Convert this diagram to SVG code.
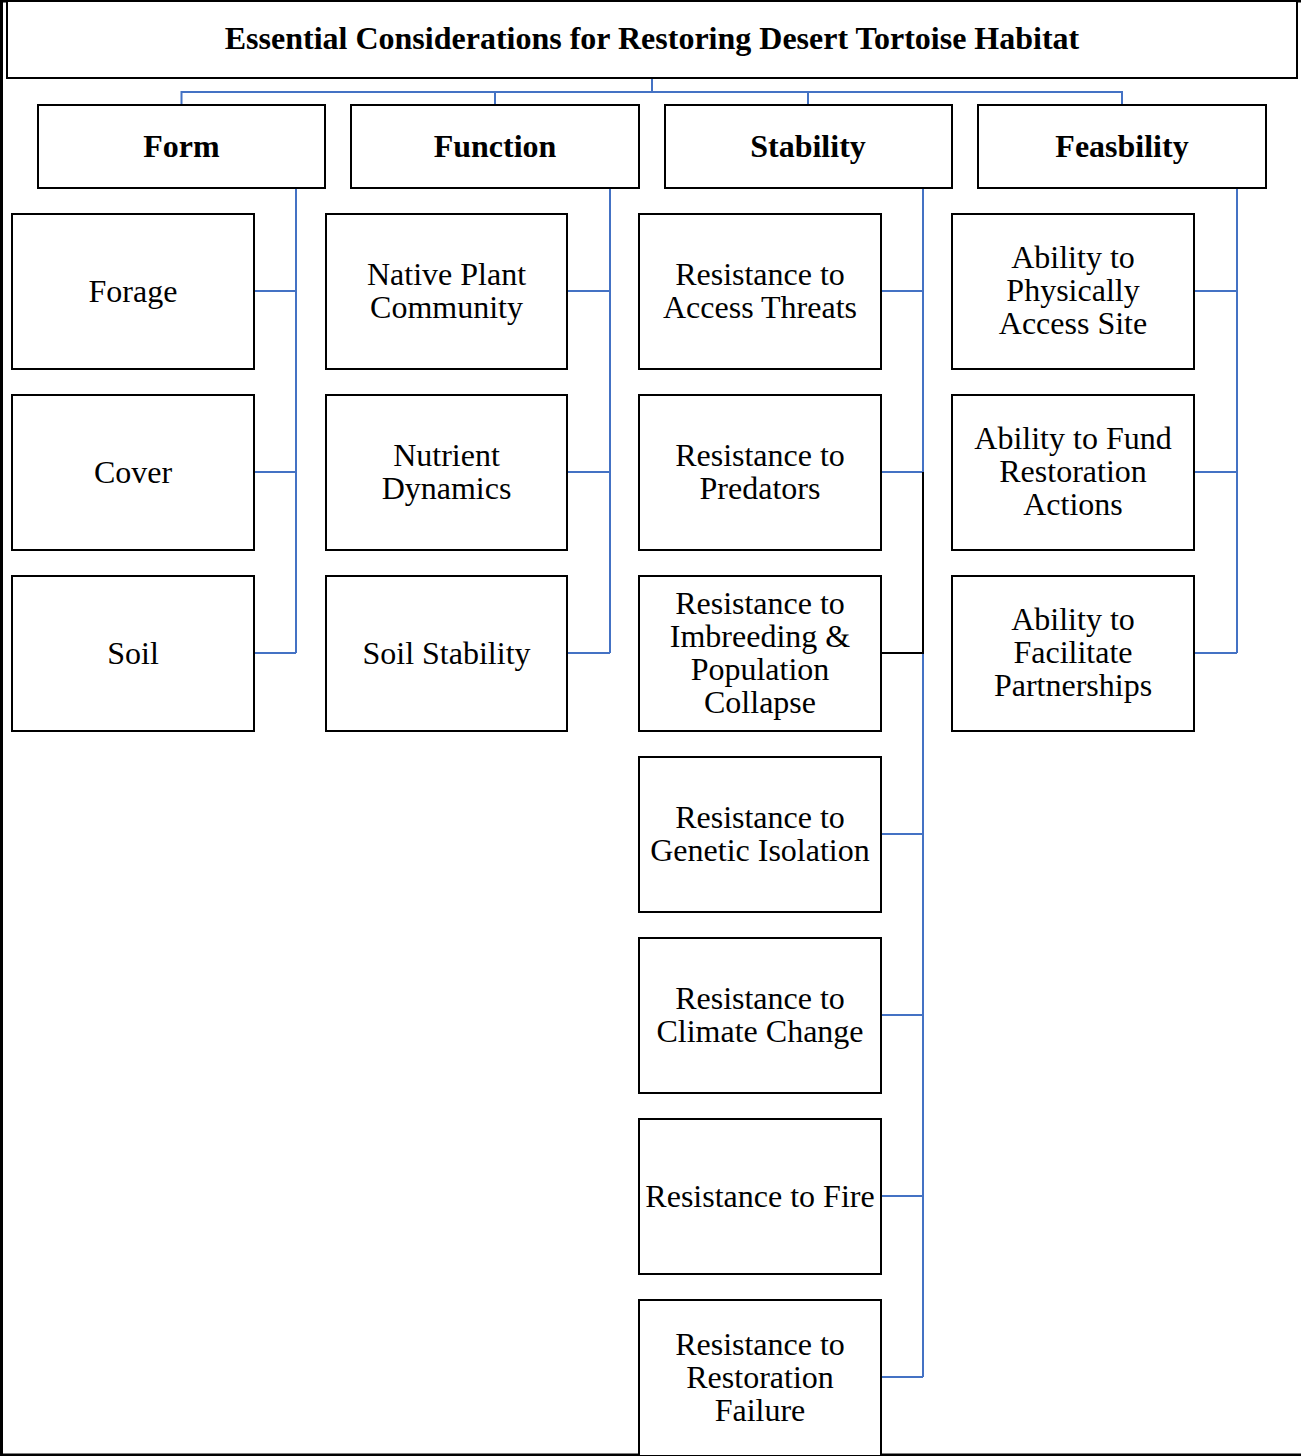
<svg xmlns="http://www.w3.org/2000/svg" width="1301" height="1456" viewBox="0 0 1301 1456">
<style>
.box{fill:#fff;stroke:#000;stroke-width:2}
.t{font-family:"Liberation Serif","Times New Roman",serif;font-size:32px;text-anchor:middle;fill:#000}
.b{font-weight:bold}
.c{fill:none;stroke:#4472C4;stroke-width:2}
.k{fill:none;stroke:#000;stroke-width:2}
.frame{fill:none;stroke:#000;stroke-width:3}
</style>
<rect width="1301" height="1456" fill="#fff"/>
<path class="frame" d="M1.5 1456 V1 H1301 M0 1455 H1301"/>
<g id="connectors">
<path class="c" d="M652 78 V92 M181.5 105 V92 H1122 V105 M495 92 V105 M808 92 V105"/>
<path class="c" d="M296 188 V653 M254 291 H296 M254 472 H296 M254 653 H296"/>
<path class="c" d="M610 188 V653 M567 291 H610 M567 472 H610 M567 653 H610"/>
<path class="c" d="M923 188 V472 M881 291 H923 M881 472 H923 M923 653 V1377 M881 834 H923 M881 1015 H923 M881 1196 H923 M881 1377 H923"/>
<path class="k" d="M923 472 V653 H881"/>
<path class="c" d="M1237 188 V653 M1194 291 H1237 M1194 472 H1237 M1194 653 H1237"/>
</g>
<g id="title"><rect class="box" x="7" y="1" width="1290" height="77"/><text class="t b" x="652" y="49">Essential Considerations for Restoring Desert Tortoise Habitat</text></g>
<g id="form"><rect class="box" x="38" y="105" width="287" height="83"/><text class="t b" x="181.5" y="157">Form</text></g>
<g id="function"><rect class="box" x="351" y="105" width="288" height="83"/><text class="t b" x="495" y="157">Function</text></g>
<g id="stability"><rect class="box" x="665" y="105" width="287" height="83"/><text class="t b" x="808" y="157">Stability</text></g>
<g id="feasbility"><rect class="box" x="978" y="105" width="288" height="83"/><text class="t b" x="1122" y="157">Feasbility</text></g>

<g id="forage"><rect class="box" x="12" y="214" width="242" height="155"/><text class="t" x="133" y="302">Forage</text></g>
<g id="cover"><rect class="box" x="12" y="395" width="242" height="155"/><text class="t" x="133" y="483">Cover</text></g>
<g id="soil"><rect class="box" x="12" y="576" width="242" height="155"/><text class="t" x="133" y="664">Soil</text></g>

<g id="native"><rect class="box" x="326" y="214" width="241" height="155"/><text class="t" x="446.5" y="285">Native Plant</text><text class="t" x="446.5" y="318">Community</text></g>
<g id="nutrient"><rect class="box" x="326" y="395" width="241" height="155"/><text class="t" x="446.5" y="466">Nutrient</text><text class="t" x="446.5" y="499">Dynamics</text></g>
<g id="soilstab"><rect class="box" x="326" y="576" width="241" height="155"/><text class="t" x="446.5" y="664">Soil Stability</text></g>

<g id="access"><rect class="box" x="639" y="214" width="242" height="155"/><text class="t" x="760" y="285">Resistance to</text><text class="t" x="760" y="318">Access Threats</text></g>
<g id="predators"><rect class="box" x="639" y="395" width="242" height="155"/><text class="t" x="760" y="466">Resistance to</text><text class="t" x="760" y="499">Predators</text></g>
<g id="imbreeding"><rect class="box" x="639" y="576" width="242" height="155"/><text class="t" x="760" y="614">Resistance to</text><text class="t" x="760" y="647">Imbreeding &amp;</text><text class="t" x="760" y="680">Population</text><text class="t" x="760" y="713">Collapse</text></g>
<g id="genetic"><rect class="box" x="639" y="757" width="242" height="155"/><text class="t" x="760" y="828">Resistance to</text><text class="t" x="760" y="861">Genetic Isolation</text></g>
<g id="climate"><rect class="box" x="639" y="938" width="242" height="155"/><text class="t" x="760" y="1009">Resistance to</text><text class="t" x="760" y="1042">Climate Change</text></g>
<g id="fire"><rect class="box" x="639" y="1119" width="242" height="155"/><text class="t" x="760" y="1207">Resistance to Fire</text></g>
<g id="restfail"><rect class="box" x="639" y="1300" width="242" height="156"/><text class="t" x="760" y="1355">Resistance to</text><text class="t" x="760" y="1388">Restoration</text><text class="t" x="760" y="1421">Failure</text></g>

<g id="physaccess"><rect class="box" x="952" y="214" width="242" height="155"/><text class="t" x="1073" y="268">Ability to</text><text class="t" x="1073" y="301">Physically</text><text class="t" x="1073" y="334">Access Site</text></g>
<g id="fund"><rect class="box" x="952" y="395" width="242" height="155"/><text class="t" x="1073" y="449">Ability to Fund</text><text class="t" x="1073" y="482">Restoration</text><text class="t" x="1073" y="515">Actions</text></g>
<g id="partner"><rect class="box" x="952" y="576" width="242" height="155"/><text class="t" x="1073" y="630">Ability to</text><text class="t" x="1073" y="663">Facilitate</text><text class="t" x="1073" y="696">Partnerships</text></g>
</svg>
